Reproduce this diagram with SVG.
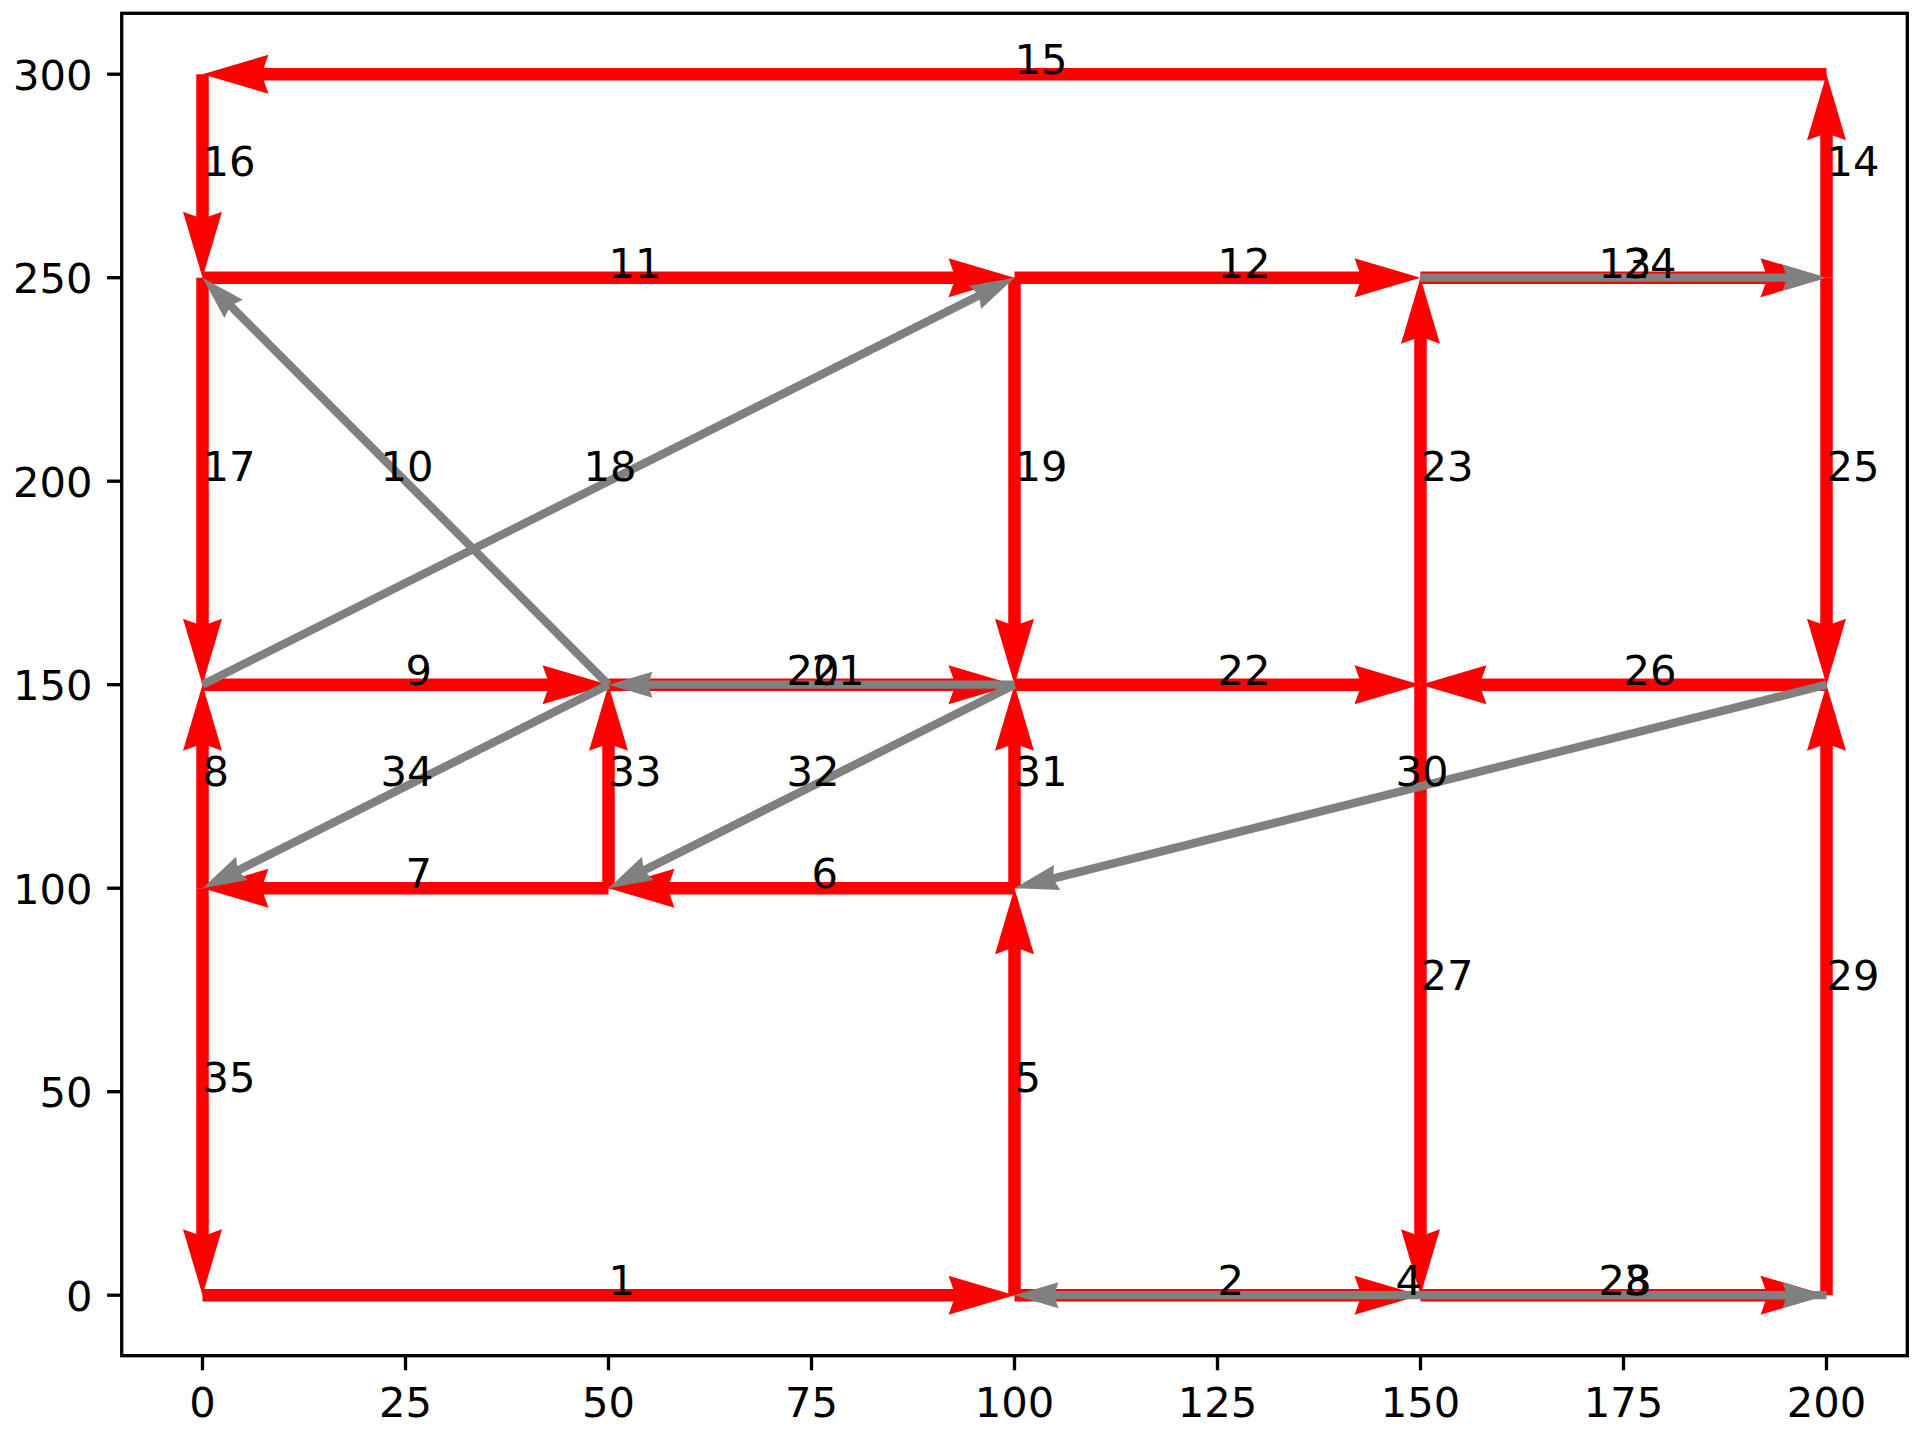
<svg xmlns="http://www.w3.org/2000/svg" width="1920" height="1440" viewBox="0 0 1920 1440">
<style>
text{font-family:"DejaVu Sans","Liberation Sans",sans-serif;font-size:41.67px;fill:#000}
.red{stroke:#ff0000;stroke-width:12.5;fill:none;stroke-linecap:butt;marker-end:url(#hr)}
.gray{stroke:#808080;stroke-width:8.33;fill:none;stroke-linecap:butt;marker-end:url(#hg)}
.tick{stroke:#000;stroke-width:3.33}
.xl{text-anchor:middle}
.yl{text-anchor:end}
</style>
<defs>
<marker id="hr" markerUnits="userSpaceOnUse" orient="auto" refX="0" refY="0" markerWidth="10" markerHeight="10" overflow="visible">
<path d="M40,0 L-26,-19.5 L-19,0 L-26,19.5 Z" fill="#ff0000"/>
</marker>
<marker id="hg" markerUnits="userSpaceOnUse" orient="auto" refX="0" refY="0" markerWidth="10" markerHeight="10" overflow="visible">
<path d="M26,0 L-18,-13 L-13.5,0 L-18,13 Z" fill="#808080"/>
</marker>
</defs>
<rect width="1920" height="1440" fill="#ffffff"/>
<g id="connectors">
<g id="red-edges">
<line id="e1" class="red" x1="202.5" y1="1295.2" x2="974.5" y2="1295.2"/>
<line id="e2" class="red" x1="1014.5" y1="1295.2" x2="1380.5" y2="1295.2"/>
<line id="e3" class="red" x1="1420.5" y1="1295.2" x2="1786.5" y2="1295.2"/>
<line id="e5" class="red" x1="1014.5" y1="1295.2" x2="1014.5" y2="928.2"/>
<line id="e6" class="red" x1="1014.5" y1="888.2" x2="648.5" y2="888.2"/>
<line id="e7" class="red" x1="608.5" y1="888.2" x2="242.5" y2="888.2"/>
<line id="e8" class="red" x1="202.5" y1="888.2" x2="202.5" y2="724.7"/>
<line id="e9" class="red" x1="202.5" y1="684.7" x2="568.5" y2="684.7"/>
<line id="e11" class="red" x1="202.5" y1="277.7" x2="974.5" y2="277.7"/>
<line id="e12" class="red" x1="1014.5" y1="277.7" x2="1380.5" y2="277.7"/>
<line id="e14" class="red" x1="1826.5" y1="277.7" x2="1826.5" y2="114.2"/>
<line id="e15" class="red" x1="1826.5" y1="74.2" x2="242.5" y2="74.2"/>
<line id="e16" class="red" x1="202.5" y1="74.2" x2="202.5" y2="237.7"/>
<line id="e17" class="red" x1="202.5" y1="277.7" x2="202.5" y2="644.7"/>
<line id="e19" class="red" x1="1014.5" y1="277.7" x2="1014.5" y2="644.7"/>
<line id="e21" class="red" x1="608.5" y1="684.7" x2="974.5" y2="684.7"/>
<line id="e22" class="red" x1="1014.5" y1="684.7" x2="1380.5" y2="684.7"/>
<line id="e23" class="red" x1="1420.5" y1="684.7" x2="1420.5" y2="317.7"/>
<line id="e24" class="red" x1="1420.5" y1="277.7" x2="1786.5" y2="277.7"/>
<line id="e25" class="red" x1="1826.5" y1="277.7" x2="1826.5" y2="644.7"/>
<line id="e26" class="red" x1="1826.5" y1="684.7" x2="1460.5" y2="684.7"/>
<line id="e27" class="red" x1="1420.5" y1="684.7" x2="1420.5" y2="1255.2"/>
<line id="e29" class="red" x1="1826.5" y1="1295.2" x2="1826.5" y2="724.7"/>
<line id="e31" class="red" x1="1014.5" y1="888.2" x2="1014.5" y2="724.7"/>
<line id="e33" class="red" x1="608.5" y1="888.2" x2="608.5" y2="724.7"/>
<line id="e35" class="red" x1="202.5" y1="888.2" x2="202.5" y2="1255.2"/>
</g>
<g id="gray-edges">
<line id="e4" class="gray" x1="1826.5" y1="1295.2" x2="1040.5" y2="1295.2"/>
<line id="e10" class="gray" x1="608.5" y1="684.7" x2="220.86" y2="296.11"/>
<line id="e13" class="gray" x1="1420.5" y1="277.7" x2="1800.5" y2="277.7"/>
<line id="e18" class="gray" x1="202.5" y1="684.7" x2="991.26" y2="289.35"/>
<line id="e20" class="gray" x1="1014.5" y1="684.7" x2="634.5" y2="684.7"/>
<line id="e28" class="gray" x1="1420.5" y1="1295.2" x2="1800.5" y2="1295.2"/>
<line id="e30" class="gray" x1="1826.5" y1="684.7" x2="1039.72" y2="881.88"/>
<line id="e32" class="gray" x1="1014.5" y1="684.7" x2="631.74" y2="876.55"/>
<line id="e34" class="gray" x1="608.5" y1="684.7" x2="225.74" y2="876.55"/>
</g>
</g>
<g id="edge-labels">
<text x="608.5" y="1295.2">1</text>
<text x="1217.5" y="1295.2">2</text>
<text x="1623.5" y="1295.2">3</text>
<text x="1395.5" y="1295.2">4</text>
<text x="1014.5" y="1091.7">5</text>
<text x="811.5" y="888.2">6</text>
<text x="405.5" y="888.2">7</text>
<text x="202.5" y="786.45">8</text>
<text x="405.5" y="684.7">9</text>
<text x="380.5" y="481.2">10</text>
<text x="608.5" y="277.7">11</text>
<text x="1217.5" y="277.7">12</text>
<text x="1598.5" y="277.7">13</text>
<text x="1826.5" y="176">14</text>
<text x="1014.5" y="74.2">15</text>
<text x="202.5" y="176">16</text>
<text x="202.5" y="481.2">17</text>
<text x="583.5" y="481.2">18</text>
<text x="1014.5" y="481.2">19</text>
<text x="786.5" y="684.7">20</text>
<text x="811.5" y="684.7">21</text>
<text x="1217.5" y="684.7">22</text>
<text x="1420.5" y="481.2">23</text>
<text x="1623.5" y="277.7">24</text>
<text x="1826.5" y="481.2">25</text>
<text x="1623.5" y="684.7">26</text>
<text x="1420.5" y="989.95">27</text>
<text x="1598.5" y="1295.2">28</text>
<text x="1826.5" y="989.95">29</text>
<text x="1395.5" y="786.45">30</text>
<text x="1014.5" y="786.45">31</text>
<text x="786.5" y="786.45">32</text>
<text x="608.5" y="786.45">33</text>
<text x="380.5" y="786.45">34</text>
<text x="202.5" y="1091.7">35</text>
</g>
<g id="axes">
<rect x="121.7" y="13.3" width="1785.6" height="1342.4" fill="none" stroke="#000" stroke-width="3.33"/>
<g id="xticks">
<line class="tick" x1="202.5" y1="1355.7" x2="202.5" y2="1370.3"/>
<line class="tick" x1="405.5" y1="1355.7" x2="405.5" y2="1370.3"/>
<line class="tick" x1="608.5" y1="1355.7" x2="608.5" y2="1370.3"/>
<line class="tick" x1="811.5" y1="1355.7" x2="811.5" y2="1370.3"/>
<line class="tick" x1="1014.5" y1="1355.7" x2="1014.5" y2="1370.3"/>
<line class="tick" x1="1217.5" y1="1355.7" x2="1217.5" y2="1370.3"/>
<line class="tick" x1="1420.5" y1="1355.7" x2="1420.5" y2="1370.3"/>
<line class="tick" x1="1623.5" y1="1355.7" x2="1623.5" y2="1370.3"/>
<line class="tick" x1="1826.5" y1="1355.7" x2="1826.5" y2="1370.3"/>
<text class="xl" x="202.5" y="1417.3">0</text>
<text class="xl" x="405.5" y="1417.3">25</text>
<text class="xl" x="608.5" y="1417.3">50</text>
<text class="xl" x="811.5" y="1417.3">75</text>
<text class="xl" x="1014.5" y="1417.3">100</text>
<text class="xl" x="1217.5" y="1417.3">125</text>
<text class="xl" x="1420.5" y="1417.3">150</text>
<text class="xl" x="1623.5" y="1417.3">175</text>
<text class="xl" x="1826.5" y="1417.3">200</text>
</g>
<g id="yticks">
<line class="tick" x1="107.1" y1="1295.2" x2="121.7" y2="1295.2"/>
<line class="tick" x1="107.1" y1="1091.7" x2="121.7" y2="1091.7"/>
<line class="tick" x1="107.1" y1="888.2" x2="121.7" y2="888.2"/>
<line class="tick" x1="107.1" y1="684.7" x2="121.7" y2="684.7"/>
<line class="tick" x1="107.1" y1="481.2" x2="121.7" y2="481.2"/>
<line class="tick" x1="107.1" y1="277.7" x2="121.7" y2="277.7"/>
<line class="tick" x1="107.1" y1="74.2" x2="121.7" y2="74.2"/>
<text class="yl" x="92.5" y="1310.7">0</text>
<text class="yl" x="92.5" y="1107.2">50</text>
<text class="yl" x="92.5" y="903.7">100</text>
<text class="yl" x="92.5" y="700.2">150</text>
<text class="yl" x="92.5" y="496.7">200</text>
<text class="yl" x="92.5" y="293.2">250</text>
<text class="yl" x="92.5" y="89.7">300</text>
</g>
</g>
</svg>
